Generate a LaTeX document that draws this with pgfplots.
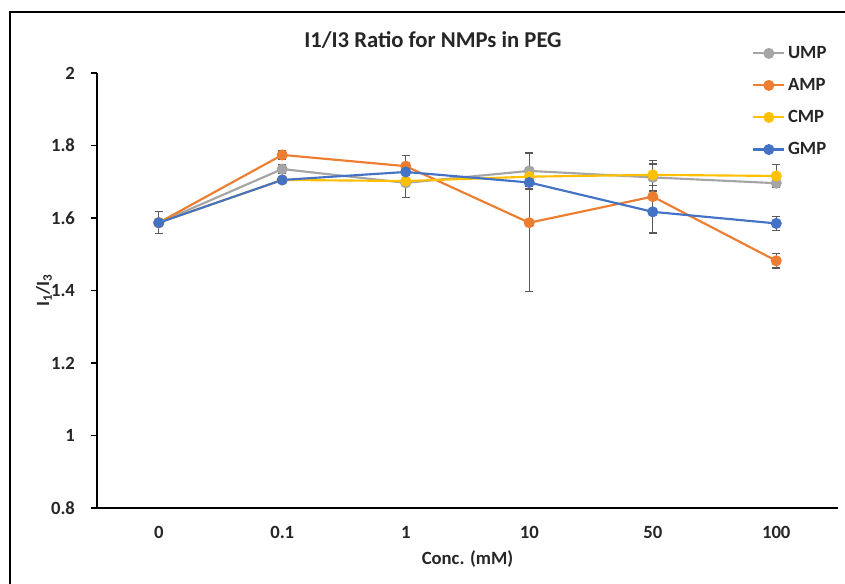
\documentclass[border=0pt]{standalone}
\usepackage{fontspec}
\setmainfont{Carlito}
\usepackage{pgfplots}
\pgfplotsset{compat=1.18}
\usepackage{pgfplotstable}

\definecolor{cU}{HTML}{A5A5A5}
\definecolor{cA}{HTML}{ED7D31}
\definecolor{cC}{HTML}{FFC000}
\definecolor{cG}{HTML}{4472C4}
\definecolor{errc}{HTML}{595959}

\pgfplotstableread{
x y e
0 1.587 0.030
1 1.735 0.012
2 1.697 0.040
3 1.730 0.050
4 1.712 0.038
5 1.696 0.010
}\ump
\pgfplotstableread{
x y e
0 1.587 0.030
1 1.774 0.012
2 1.743 0.030
3 1.587 0.190
4 1.659 0.100
5 1.482 0.020
}\amp
\pgfplotstableread{
x y e
0 1.587 0.030
1 1.705 0.008
2 1.702 0.010
3 1.714 0.010
4 1.719 0.030
5 1.716 0.032
}\cmp
\pgfplotstableread{
x y e
0 1.587 0.030
1 1.705 0.008
2 1.727 0.010
3 1.698 0.010
4 1.617 0.060
5 1.585 0.020
}\gmp

\begin{document}
\begin{tikzpicture}
\path[use as bounding box, fill=white] (0,0) rectangle (633.75pt,437.25pt);
\draw[line width=1pt] (7.5pt,-1pt) -- (7.5pt,428.25pt) -- (635pt,428.25pt);
\node[font=\fontsize{17}{20}\selectfont\bfseries, text=black!85] at (324.75pt,407.25pt) {I1/I3 Ratio for NMPs in PEG};
\begin{axis}[
  at={(72.75pt,56.25pt)}, anchor=south west,
  scale only axis, width=555.75pt, height=326.25pt,
  xmin=-0.5, xmax=5.5, ymin=0.8, ymax=2,
  ytick={0.8,1,...,2.01},
  xtick={0,...,5},
  xticklabels={0,0.1,1,10,50,100},
  extra x ticks={-0.5,0.5,1.5,2.5,3.5,4.5,5.5},
  extra x tick labels={},
  extra x tick style={major tick length=4.5pt, tick style={black, line width=0.8pt}},
  x tick style={draw=none},
  y tick style={black, line width=0.8pt},
  major tick length=4.5pt,
  tick align=outside,
  axis x line*=bottom, axis y line*=left,
  axis line style={-, black, line width=1pt},
  /pgf/number format/assume math mode=true,
  tick label style={font=\fontsize{14}{16}\selectfont\bfseries, text=black!85},
  yticklabel style={xshift=-8.5pt},
  xticklabel style={yshift=-5.5pt},
  xlabel={Conc. (mM)},
  xlabel style={font=\fontsize{14}{16}\selectfont\bfseries, text=black!85, at={(axis description cs:0.5,-0.117)}, anchor=center},
  ylabel={I$_{\mathbf{1}}$/I$_{\mathbf{3}}$},
  ylabel style={font=\fontsize{14}{16}\selectfont\bfseries, text=black!85, at={(axis description cs:-0.0715,0.5)}, anchor=center, rotate=0},
  legend style={at={(axis description cs:0.884,1.068)}, anchor=north west, draw=none, fill=none,
    font=\fontsize{14}{16}\selectfont\bfseries, text=black!85, row sep=9.4pt, inner sep=0pt,
    cells={anchor=west}},
  legend image code/.code={%
    \draw[mark repeat=2, mark phase=2] plot coordinates {(0pt,0pt) (11.6pt,0pt) (23.2pt,0pt)};},
  every axis plot/.append style={line width=1.6pt},
  clip=false,
]
\addplot[color=cU, mark=*, mark size=3.3pt, mark options={solid, fill=cU},
  error bars/.cd, y dir=both, y explicit,
  error bar style={color=errc, line width=0.8pt},
  error mark options={rotate=90, mark size=3pt, line width=0.8pt, color=errc}]
  table[x=x, y=y, y error=e] {\ump};
\addlegendentry{UMP}
\addplot[color=cA, mark=*, mark size=3.3pt, mark options={solid, fill=cA},
  error bars/.cd, y dir=both, y explicit,
  error bar style={color=errc, line width=0.8pt},
  error mark options={rotate=90, mark size=3pt, line width=0.8pt, color=errc}]
  table[x=x, y=y, y error=e] {\amp};
\addlegendentry{AMP}
\addplot[color=cC, mark=*, mark size=3.3pt, mark options={solid, fill=cC},
  error bars/.cd, y dir=both, y explicit,
  error bar style={color=errc, line width=0.8pt},
  error mark options={rotate=90, mark size=3pt, line width=0.8pt, color=errc}]
  table[x=x, y=y, y error=e] {\cmp};
\addlegendentry{CMP}
\addplot[color=cG, mark=*, mark size=3.3pt, mark options={solid, fill=cG},
  error bars/.cd, y dir=both, y explicit,
  error bar style={color=errc, line width=0.8pt},
  error mark options={rotate=90, mark size=3pt, line width=0.8pt, color=errc}]
  table[x=x, y=y, y error=e] {\gmp};
\addlegendentry{GMP}
\end{axis}
\end{tikzpicture}
\end{document}
